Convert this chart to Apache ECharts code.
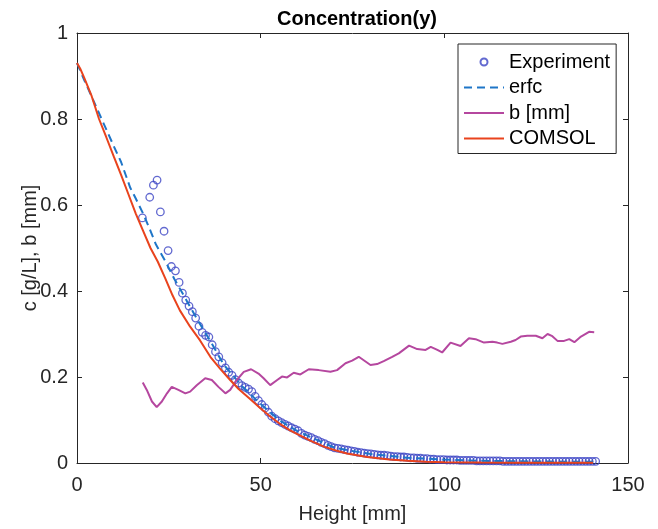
<!DOCTYPE html>
<html>
<head>
<meta charset="utf-8">
<script src="https://cdn.jsdelivr.net/npm/echarts@6/dist/echarts.min.js"></script>
<style>html,body{margin:0;padding:0;background:#fff}#c{width:658px;height:529px}</style>
</head>
<body>
<div id="c"></div>
<script>
const titleText = 'Concentration(y)';
const xName = 'Height [mm]';
const yName = 'c [g/L], b [mm]';
const seriesNames = ['Experiment', 'erfc', 'b [mm]', 'COMSOL'];

const expX = [17.8,19.8,20.8,21.8,22.7,23.7,24.8,25.7,26.8,27.8,
  28.7,29.6,30.5,31.4,32.3,33.2,34.1,35.0,35.9,36.8,37.7,38.6,39.5,40.4,41.3,42.2,43.1,44.0,44.9,45.8,
  46.7,47.6,48.5,49.4,50.3,51.2,52.1,53.0,53.9,54.8,55.7,56.6,57.5,58.4,59.3,60.2,61.1,62.0,62.9,63.8,
  64.7,65.6,66.5,67.4,68.3,69.2,70.1,71.0,71.9,72.8,73.7,74.6,75.5,76.4,77.3,78.2,79.1,80.0,80.9,81.8,
  82.7,83.6,84.5,85.4,86.3,87.2,88.1,89.0,89.9,90.8,91.7,92.6,93.5,94.4,95.3,96.2,97.1,98.0,98.9,99.8,
  100.7,101.6,102.5,103.4,104.3,105.2,106.1,107.0,107.9,108.8,109.7,110.6,111.5,112.4,113.3,114.2,115.1,116.0,116.9,117.8,
  118.7,119.6,120.5,121.4,122.3,123.2,124.1,125.0,125.9,126.8,127.7,128.6,129.5,130.4,131.3,132.2,133.1,134.0,134.9,135.8,
  136.7,137.6,138.5,139.4,140.3,141.2];
const expY = [0.570,0.618,0.646,0.658,0.584,0.539,0.494,0.457,0.447,0.420,
  0.395,0.379,0.365,0.352,0.337,0.318,0.304,0.297,0.293,0.275,0.259,0.247,0.233,0.221,0.211,0.204,0.194,0.186,0.180,0.176,
  0.172,0.166,0.155,0.145,0.136,0.128,0.118,0.109,0.103,0.098,0.094,0.090,0.086,0.082,0.079,0.075,0.069,0.065,0.062,0.059,
  0.055,0.052,0.048,0.045,0.041,0.038,0.035,0.034,0.033,0.031,0.030,0.028,0.027,0.025,0.024,0.023,0.022,0.021,0.020,0.019,
  0.018,0.018,0.017,0.016,0.015,0.015,0.014,0.014,0.013,0.012,0.012,0.011,0.011,0.010,0.010,0.009,0.009,0.008,0.008,0.008,
  0.007,0.007,0.007,0.007,0.006,0.006,0.006,0.006,0.006,0.005,0.005,0.005,0.005,0.005,0.005,0.005,0.005,0.004,0.004,0.004,
  0.004,0.004,0.004,0.004,0.004,0.004,0.004,0.004,0.004,0.004,0.004,0.004,0.004,0.004,0.004,0.004,0.004,0.004,0.004,0.004,
  0.004,0.004,0.004,0.004,0.004,0.004];

const erfcX = [0,2,4,6.7,10,12,14.5,16,18,20,21.5,24,26.5,29.5,33,36,40,45,50,55,60,65,70,75,80,90,100,110,120,130,141];
const erfcY = [0.93,0.89,0.852,0.80,0.737,0.70,0.64,0.615,0.58,0.54,0.508,0.47,0.428,0.383,0.33,0.288,0.228,0.178,0.137,0.10,0.074,0.055,0.036,0.028,0.021,0.012,0.008,0.005,0.004,0.003,0.003];

const bX = [17.9,19,20.4,21.7,23.1,24.5,25.8,27.6,29.5,30.8,32.6,34.9,36.7,38.5,40.4,41.7,43.5,45.4,47.4,49.4,
  50.8,52.6,54.5,55.8,57.2,59,60.8,63.1,65.8,69,70.8,73.1,74.9,76.7,79.9,81.7,83.5,85.8,87.6,90.4,
  92.6,94.9,96.3,98.1,99.4,101.7,104.4,106.7,108.5,110.8,113.1,114.4,115.8,118.1,119.4,120.8,122.6,124.9,126.7,128.1,
  129.4,130.8,132.6,134,135.4,137.2,139.4,140.8];
const bY = [0.187,0.170,0.143,0.130,0.143,0.162,0.177,0.170,0.162,0.166,0.181,0.197,0.193,0.177,0.162,0.170,0.193,0.212,0.218,0.208,
  0.197,0.181,0.193,0.201,0.199,0.210,0.206,0.218,0.216,0.212,0.216,0.232,0.238,0.247,0.228,0.230,0.237,0.247,0.255,0.273,
  0.265,0.263,0.270,0.263,0.257,0.280,0.272,0.290,0.288,0.280,0.282,0.280,0.277,0.282,0.286,0.294,0.296,0.296,0.290,0.300,
  0.295,0.284,0.284,0.288,0.281,0.294,0.305,0.304];

const comsolX = [0,1,2,4,6,8,10,12,14,16,18,20,22,24,26,28,30.8,33.5,36.3,39,41.7,44,47.2,50,52.6,55.4,58,60,63.5,67.2,70.5,73.5,79,85,90,95,100,110,120,130,140.5];
const comsolY = [0.93,0.915,0.895,0.853,0.80,0.757,0.713,0.67,0.625,0.58,0.54,0.50,0.468,0.43,0.39,0.355,0.317,0.285,0.247,0.219,0.193,0.172,0.148,0.127,0.108,0.09,0.076,0.067,0.052,0.038,0.029,0.022,0.014,0.008,0.005,0.003,0.002,0.001,0.0006,0.0004,0.0003];

const xTicks = {min: 0, max: 150, interval: 50};
const yTicks = {min: 0, max: 1, interval: 0.2};

const zip = (a, b) => a.map((v, i) => [v, b[i]]);
const FONT = 'Liberation Sans, Arial, Helvetica, sans-serif';
const AX = '#262626';
const COLORS = ['#3b44c4', '#1f76c8', '#b5479f', '#e9431d'];

const chart = echarts.init(document.getElementById('c'), null, {renderer: 'canvas'});
const axisCommon = {
  axisLine: {show: true, onZero: false, lineStyle: {color: AX, width: 1}},
  axisTick: {show: true, inside: true, length: 5, lineStyle: {color: AX, width: 1}},
  splitLine: {show: false},
  nameMoveOverlap: false
};
const hiddenDot = {color: 'rgba(0,0,0,0)', opacity: 0, borderWidth: 0};
chart.setOption({
  backgroundColor: '#fff',
  animation: false,
  title: {
    text: titleText, left: 352, top: 4, textAlign: 'center',
    textStyle: {fontFamily: FONT, fontSize: 20, fontWeight: 'bold', color: '#000'}
  },
  grid: {left: 77, top: 33, right: 30, bottom: 66},
  legend: {
    orient: 'vertical', left: 458, top: 44,
    data: [
      {name: seriesNames[0]},
      {name: seriesNames[1], itemStyle: hiddenDot},
      {name: seriesNames[2], itemStyle: hiddenDot},
      {name: seriesNames[3], itemStyle: hiddenDot}
    ],
    itemWidth: 40, itemHeight: 7, itemGap: 5.5, itemTextGap: 5,
    padding: [8, 6, 5, 5],
    borderColor: '#262626', borderWidth: 1, backgroundColor: '#fff',
    textStyle: {fontFamily: FONT, fontSize: 20, color: '#000'}
  },
  xAxis: [
    Object.assign({type: 'value', position: 'bottom', min: xTicks.min, max: xTicks.max, interval: xTicks.interval,
      name: xName, nameLocation: 'middle', nameGap: 41,
      nameTextStyle: {fontFamily: FONT, fontSize: 20, color: AX},
      axisLabel: {fontFamily: FONT, fontSize: 20, color: AX, margin: 12}}, axisCommon),
    Object.assign({type: 'value', position: 'top', min: xTicks.min, max: xTicks.max, interval: xTicks.interval,
      axisLabel: {show: false}}, axisCommon)
  ],
  yAxis: [
    Object.assign({type: 'value', position: 'left', min: yTicks.min, max: yTicks.max, interval: yTicks.interval,
      name: yName, nameLocation: 'middle', nameGap: 37, nameRotate: 90,
      nameTextStyle: {fontFamily: FONT, fontSize: 20, color: AX},
      axisLabel: {fontFamily: FONT, fontSize: 20, color: AX, margin: 9}}, axisCommon),
    Object.assign({type: 'value', position: 'right', min: yTicks.min, max: yTicks.max, interval: yTicks.interval,
      axisLabel: {show: false}}, axisCommon)
  ],
  series: [
    {
      name: seriesNames[0], type: 'scatter', data: zip(expX, expY),
      symbol: 'circle', symbolSize: 7.5,
      itemStyle: {color: 'rgba(0,0,0,0)', borderColor: COLORS[0], borderWidth: 1.3}
    },
    {
      name: seriesNames[1], type: 'line', data: zip(erfcX, erfcY), symbol: 'none',
      lineStyle: {color: COLORS[1], width: 2, type: [8, 5]}, itemStyle: {color: COLORS[1]}
    },
    {
      name: seriesNames[2], type: 'line', data: zip(bX, bY), symbol: 'none',
      lineStyle: {color: COLORS[2], width: 2}, itemStyle: {color: COLORS[2]}
    },
    {
      name: seriesNames[3], type: 'line', data: zip(comsolX, comsolY), symbol: 'none',
      lineStyle: {color: COLORS[3], width: 2}, itemStyle: {color: COLORS[3]}
    }
  ]
});
</script>
</body>
</html>
